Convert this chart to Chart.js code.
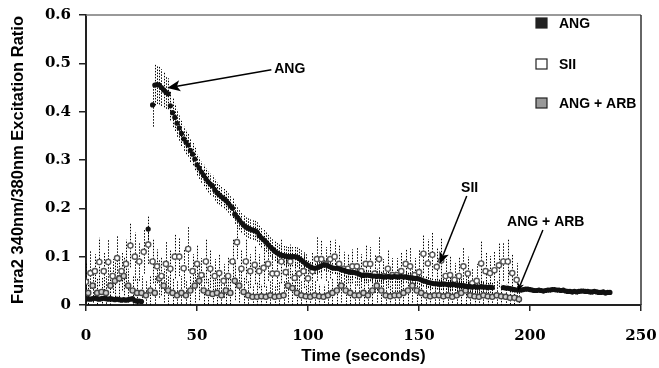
<!DOCTYPE html>
<html>
<head>
<meta charset="utf-8">
<script src="https://cdn.jsdelivr.net/npm/chart.js@4.4.1/dist/chart.umd.min.js"></script>
<style>
  html, body { margin: 0; padding: 0; background: #fff; }
  canvas { display: block; }
</style>
</head>
<body>
<canvas id="ratioChart" width="659" height="368"></canvas>
<script>
// Sampling (seconds) for each series
const angStart = 0, angStep = 1;
const siiStart = 0, siiStep = 2;
const arbStart = 1, arbStep = 2;

const xTicks = [0, 50, 100, 150, 200, 250];
const yTicks = [0, 0.1, 0.2, 0.3, 0.4, 0.5, 0.6];

// ANG: mean ratio, one value per second (null = no sample)
const angValues = [
  0.012, 0.013, 0.012, 0.013, 0.014, 0.013, 0.012, 0.013, 0.014, 0.013,
  0.012, 0.013, 0.012, 0.011, 0.012, 0.011, 0.010, 0.011, 0.010, 0.011,
  0.012, 0.013, 0.009, 0.008, 0.008, 0.007, null, null, 0.157, null,
  0.414, 0.455, 0.456, 0.455, 0.450, 0.445, 0.440, 0.437, 0.412, 0.398,
  0.388, 0.376, 0.366, 0.355, 0.344, 0.337, 0.331, 0.320, 0.312, 0.302,
  0.290, 0.283, 0.275, 0.268, 0.261, 0.255, 0.250, 0.246, 0.238, 0.232,
  0.228, 0.224, 0.220, 0.216, 0.211, 0.205, 0.200, 0.188, 0.182, 0.176,
  0.170, 0.165, 0.161, 0.159, 0.157, 0.155, 0.154, 0.151, 0.144, 0.139,
  0.135, 0.130, 0.125, 0.120, 0.116, 0.111, 0.108, 0.105, 0.103, 0.102,
  0.101, 0.100, 0.100, 0.100, 0.100, 0.099, 0.096, 0.093, 0.089, 0.085,
  0.082, 0.079, 0.077, 0.076, 0.077, 0.079, 0.081, 0.083, 0.083, 0.081,
  0.079, 0.077, 0.076, 0.076, 0.075, 0.073, 0.072, 0.070, 0.069, 0.068,
  0.068, 0.067, 0.066, 0.064, 0.062, 0.061, 0.062, 0.062, 0.061, 0.060,
  0.060, 0.059, 0.060, 0.059, 0.058, 0.058, 0.059, 0.058, 0.058, 0.059,
  0.058, 0.058, 0.059, 0.058, 0.058, 0.057, 0.056, 0.056, 0.055, 0.055,
  0.054, 0.052, 0.050, 0.049, 0.047, 0.046, 0.045, 0.044, 0.044, 0.043,
  0.043, 0.044, 0.043, 0.042, 0.042, 0.043, 0.042, 0.041, 0.041, 0.040,
  0.040, 0.039, 0.038, 0.038, 0.037, 0.038, 0.037, 0.037, 0.038, 0.037,
  0.037, 0.036, 0.037, 0.036, null, null, null, null, 0.036, 0.035,
  0.035, 0.034, 0.033, 0.032, 0.031, 0.031, 0.031, 0.032, 0.033, 0.033,
  0.032, 0.031, 0.030, 0.030, 0.031, 0.030, 0.029, 0.030, 0.031, 0.031,
  0.032, 0.032, 0.031, 0.031, 0.030, 0.031, 0.029, 0.028, 0.028, 0.027,
  0.028, 0.027, 0.028, 0.029, 0.029, 0.028, 0.028, 0.027, 0.027, 0.028,
  0.027, 0.026, 0.026, 0.027, 0.025, 0.026, 0.026
];
const angErrors = [
  0.003, 0.003, 0.003, 0.003, 0.003, 0.003, 0.003, 0.003, 0.003, 0.003,
  0.003, 0.003, 0.003, 0.003, 0.003, 0.003, 0.003, 0.003, 0.003, 0.003,
  0.003, 0.003, 0.003, 0.003, 0.003, 0.003, null, null, 0.027, null,
  0.045, 0.042, 0.040, 0.040, 0.038, 0.036, 0.034, 0.032, 0.030, 0.030,
  0.028, 0.028, 0.026, 0.026, 0.025, 0.025, 0.024, 0.024, 0.023, 0.023,
  0.022, 0.022, 0.022, 0.022, 0.022, 0.022, 0.022, 0.022, 0.022, 0.022,
  0.020, 0.020, 0.020, 0.020, 0.020, 0.020, 0.020, 0.020, 0.020, 0.020,
  0.020, 0.020, 0.020, 0.020, 0.020, 0.020, 0.020, 0.020, 0.020, 0.020,
  0.020, 0.020, 0.020, 0.020, 0.020, 0.020, 0.020, 0.020, 0.020, 0.020,
  0.020, 0.020, 0.020, 0.020, 0.020, 0.020, 0.020, 0.020, 0.020, 0.020,
  0.012, 0.012, 0.012, 0.012, 0.012, 0.012, 0.012, 0.012, 0.012, 0.012,
  0.012, 0.012, 0.012, 0.012, 0.012, 0.012, 0.012, 0.012, 0.012, 0.012,
  0.012, 0.012, 0.012, 0.012, 0.012, 0.012, 0.012, 0.012, 0.012, 0.012,
  0.012, 0.012, 0.012, 0.012, 0.012, 0.012, 0.012, 0.012, 0.012, 0.012,
  0.012, 0.012, 0.012, 0.012, 0.012, 0.012, 0.012, 0.012, 0.012, 0.012,
  0.012, 0.012, 0.012, 0.012, 0.012, 0.012, 0.012, 0.012, 0.012, 0.012,
  0.012, 0.012, 0.012, 0.012, 0.012, 0.012, 0.012, 0.012, 0.012, 0.012,
  0.012, 0.012, 0.012, 0.012, 0.012, 0.012, 0.012, 0.012, 0.012, 0.012,
  0.012, 0.012, 0.012, 0.012, null, null, null, null, 0.005, 0.005,
  0.005, 0.005, 0.005, 0.005, 0.005, 0.005, 0.005, 0.005, 0.005, 0.005,
  0.005, 0.005, 0.005, 0.005, 0.005, 0.005, 0.005, 0.005, 0.005, 0.005,
  0.005, 0.005, 0.005, 0.005, 0.005, 0.005, 0.005, 0.005, 0.005, 0.005,
  0.005, 0.005, 0.005, 0.005, 0.005, 0.005, 0.005, 0.005, 0.005, 0.005,
  0.005, 0.005, 0.005, 0.005, 0.005, 0.005, 0.005
];

// SII: every 2 s from 0 s
const siiValues = [
  0.048, 0.066, 0.070, 0.089, 0.070, 0.089, 0.060, 0.097, 0.070, 0.085,
  0.123, 0.100, 0.090, 0.110, 0.125, 0.090, 0.080, 0.060, 0.085, 0.075,
  0.100, 0.100, 0.076, 0.116, 0.070, 0.085, 0.062, 0.090, 0.075, 0.060,
  0.066, 0.050, 0.060, 0.090, 0.130, 0.075, 0.090, 0.070, 0.083, 0.070,
  0.077, 0.085, 0.065, 0.065, 0.090, 0.068, 0.090, 0.056, 0.065, 0.070,
  0.055, 0.070, 0.095, 0.095, 0.085, 0.095, 0.100, 0.085, 0.075, 0.075,
  0.080, 0.080, 0.070, 0.085, 0.085, 0.065, 0.095, 0.060, 0.075, 0.062,
  0.062, 0.070, 0.085, 0.080, 0.062, 0.068, 0.106, 0.086, 0.104, 0.079,
  0.092, 0.060, 0.062, 0.052, 0.060, 0.080, 0.065, 0.045, 0.050, 0.086,
  0.070, 0.066, 0.072, 0.082, 0.090, 0.090, 0.066, 0.052
];
const siiErrors = [
  0.040, 0.045, 0.035, 0.050, 0.040, 0.045, 0.035, 0.045, 0.040, 0.050,
  0.045, 0.050, 0.040, 0.045, 0.040, 0.045, 0.035, 0.040, 0.045, 0.040,
  0.045, 0.040, 0.040, 0.045, 0.035, 0.040, 0.035, 0.045, 0.040, 0.035,
  0.040, 0.035, 0.040, 0.045, 0.035, 0.040, 0.045, 0.035, 0.040, 0.035,
  0.040, 0.035, 0.040, 0.035, 0.045, 0.040, 0.035, 0.030, 0.040, 0.035,
  0.035, 0.040, 0.045, 0.040, 0.035, 0.040, 0.035, 0.040, 0.035, 0.030,
  0.035, 0.040, 0.035, 0.040, 0.035, 0.040, 0.045, 0.035, 0.040, 0.035,
  0.035, 0.040, 0.030, 0.040, 0.035, 0.045, 0.040, 0.050, 0.045, 0.040,
  0.045, 0.035, 0.040, 0.035, 0.040, 0.040, 0.035, 0.030, 0.035, 0.045,
  0.040, 0.035, 0.040, 0.045, 0.040, 0.045, 0.040, 0.035
];

// ANG + ARB: every 2 s from 1 s
const arbValues = [
  0.025, 0.040, 0.025, 0.027, 0.025, 0.040, 0.050, 0.055, 0.060, 0.040,
  0.030, 0.025, 0.025, 0.020, 0.030, 0.025, 0.055, 0.040, 0.030, 0.025,
  0.020, 0.025, 0.020, 0.030, 0.040, 0.050, 0.030, 0.025, 0.023, 0.025,
  0.020, 0.030, 0.025, 0.050, 0.040, 0.027, 0.020, 0.017, 0.017, 0.018,
  0.017, 0.020, 0.017, 0.018, 0.020, 0.040, 0.035, 0.025, 0.020, 0.018,
  0.017, 0.020, 0.018, 0.017, 0.020, 0.025, 0.030, 0.040, 0.030, 0.025,
  0.020, 0.020, 0.025, 0.020, 0.030, 0.040, 0.030, 0.020, 0.018, 0.020,
  0.020, 0.025, 0.030, 0.040, 0.030, 0.025, 0.020, 0.018, 0.020, 0.020,
  0.018, 0.020, 0.017, 0.020, 0.025, 0.030, 0.020, 0.018, 0.017, 0.020,
  0.018, 0.017, 0.020, 0.018, 0.017, 0.015, 0.015, 0.012
];
const arbErrors = [
  0.030, 0.035, 0.030, 0.030, 0.035, 0.040, 0.040, 0.045, 0.040, 0.035,
  0.030, 0.030, 0.035, 0.030, 0.030, 0.035, 0.040, 0.035, 0.030, 0.030,
  0.030, 0.035, 0.030, 0.030, 0.035, 0.040, 0.035, 0.030, 0.030, 0.030,
  0.030, 0.035, 0.030, 0.040, 0.035, 0.030, 0.030, 0.025, 0.030, 0.025,
  0.025, 0.030, 0.025, 0.030, 0.030, 0.035, 0.035, 0.030, 0.030, 0.025,
  0.025, 0.030, 0.025, 0.025, 0.030, 0.030, 0.035, 0.035, 0.030, 0.030,
  0.030, 0.030, 0.030, 0.030, 0.035, 0.035, 0.030, 0.030, 0.025, 0.030,
  0.030, 0.030, 0.035, 0.035, 0.030, 0.030, 0.030, 0.025, 0.030, 0.030,
  0.025, 0.030, 0.025, 0.030, 0.030, 0.035, 0.030, 0.025, 0.025, 0.030,
  0.025, 0.025, 0.030, 0.025, 0.025, 0.020, 0.020, 0.020
];

const seriesNames = ['ANG', 'SII', 'ANG + ARB'];

// callout labels with arrows (data coordinates)
const callouts = [
  { text: 'ANG', lx: 84.8, ly: 0.488, align: 'left', tx: 83.5, ty: 0.4865, hx: 36.6, hy: 0.449, head: 13 },
  { text: 'SII', lx: 172.8, ly: 0.242, align: 'center', tx: 171.5, ty: 0.2257, hx: 159.3, hy: 0.085, head: 12 },
  { text: 'ANG + ARB', lx: 207.1, ly: 0.172, align: 'center', tx: 205.8, ty: 0.155, hx: 194.5, hy: 0.029, head: 8 }
];

function toPoints(start, step, values) {
  return values.map((v, i) => ({ x: start + i * step, y: v }));
}

const errorBars = {
  id: 'errorBars',
  beforeDatasetsDraw(chart) {
    const { ctx, chartArea, scales: { x, y } } = chart;
    ctx.save();
    ctx.beginPath();
    ctx.rect(chartArea.left, chartArea.top, chartArea.width, chartArea.height);
    ctx.clip();
    ctx.strokeStyle = '#000';
    ctx.lineWidth = 1;
    ctx.setLineDash([1.5, 1.5]);
    chart.data.datasets.forEach(ds => {
      ds.data.forEach((p, i) => {
        const e = ds.errors[i];
        if (p.y == null || e == null) return;
        const px = Math.round(x.getPixelForValue(p.x)) + 0.5;
        ctx.beginPath();
        ctx.moveTo(px, y.getPixelForValue(p.y - e));
        ctx.lineTo(px, y.getPixelForValue(p.y + e));
        ctx.stroke();
      });
    });
    ctx.restore();
  }
};

const frameAndNotes = {
  id: 'frameAndNotes',
  afterDraw(chart) {
    const { ctx, chartArea: a, scales: { x, y } } = chart;
    ctx.save();
    // top and right frame
    ctx.lineWidth = 1.5;
    ctx.strokeStyle = '#777';
    ctx.beginPath();
    ctx.moveTo(a.left, a.top);
    ctx.lineTo(a.right, a.top);
    ctx.stroke();
    ctx.strokeStyle = '#333';
    ctx.beginPath();
    ctx.moveTo(a.right, a.top);
    ctx.lineTo(a.right, a.bottom);
    ctx.stroke();

    // legend
    const fills = ['#222', '#fff', '#999'];
    const rows = [8, 49, 88];
    ctx.font = 'bold 14px "Liberation Sans", Arial, sans-serif';
    ctx.textBaseline = 'middle';
    ctx.textAlign = 'left';
    seriesNames.forEach((name, i) => {
      const cy = a.top + rows[i];
      ctx.fillStyle = fills[i];
      ctx.fillRect(a.right - 105, cy - 5, 11, 10);
      ctx.strokeStyle = '#222';
      ctx.lineWidth = 1.2;
      ctx.strokeRect(a.right - 105, cy - 5, 11, 10);
      ctx.fillStyle = '#000';
      ctx.fillText(name, a.right - 82, cy + 1);
    });

    // callouts
    callouts.forEach(c => {
      const tx = x.getPixelForValue(c.tx), ty = y.getPixelForValue(c.ty);
      const hx = x.getPixelForValue(c.hx), hy = y.getPixelForValue(c.hy);
      ctx.fillStyle = '#000';
      ctx.textAlign = c.align;
      ctx.fillText(c.text, x.getPixelForValue(c.lx), y.getPixelForValue(c.ly));
      const ang = Math.atan2(hy - ty, hx - tx);
      const bx = hx - c.head * 0.75 * Math.cos(ang), by = hy - c.head * 0.75 * Math.sin(ang);
      ctx.strokeStyle = '#000';
      ctx.lineWidth = 1.5;
      ctx.beginPath();
      ctx.moveTo(tx, ty);
      ctx.lineTo(bx, by);
      ctx.stroke();
      const w = c.head * 0.42;
      ctx.beginPath();
      ctx.moveTo(hx, hy);
      ctx.lineTo(hx - c.head * Math.cos(ang) + w * Math.sin(ang), hy - c.head * Math.sin(ang) - w * Math.cos(ang));
      ctx.lineTo(bx, by);
      ctx.lineTo(hx - c.head * Math.cos(ang) - w * Math.sin(ang), hy - c.head * Math.sin(ang) + w * Math.cos(ang));
      ctx.closePath();
      ctx.fill();
    });
    ctx.restore();
  }
};

const tickFont = { family: '"DejaVu Serif", serif', size: 15, weight: 'bold' };
const titleFont = { family: '"Liberation Sans", Arial, sans-serif', size: 16.5, weight: 'bold' };

new Chart(document.getElementById('ratioChart'), {
  type: 'scatter',
  data: {
    datasets: [
      {
        label: seriesNames[0],
        data: toPoints(angStart, angStep, angValues),
        errors: angErrors,
        pointRadius: 2.6,
        pointBackgroundColor: '#111',
        pointBorderWidth: 0
      },
      {
        label: seriesNames[1],
        data: toPoints(siiStart, siiStep, siiValues),
        errors: siiErrors,
        pointRadius: 2.6,
        pointBackgroundColor: '#fff',
        pointBorderColor: '#555',
        pointBorderWidth: 1.4
      },
      {
        label: seriesNames[2],
        data: toPoints(arbStart, arbStep, arbValues),
        errors: arbErrors,
        pointRadius: 2.6,
        pointBackgroundColor: '#d0d0d0',
        pointBorderColor: '#444',
        pointBorderWidth: 1.4
      }
    ]
  },
  options: {
    responsive: false,
    animation: false,
    layout: { padding: { top: 15, right: 18, left: 0, bottom: 0 } },
    plugins: { legend: { display: false }, tooltip: { enabled: false } },
    scales: {
      x: {
        type: 'linear',
        min: xTicks[0],
        max: xTicks[xTicks.length - 1],
        afterBuildTicks: s => { s.ticks = xTicks.map(v => ({ value: v })); },
        afterFit: s => { s.height = 63; s.paddingLeft = 0; s.paddingRight = 0; },
        ticks: { font: tickFont, color: '#000', padding: 16, maxRotation: 0 },
        grid: { drawOnChartArea: false, tickLength: 6, color: '#222', lineWidth: 1.5 },
        border: { color: '#222', width: 2 },
        title: { display: true, text: 'Time (seconds)', font: { ...titleFont, size: 17 }, color: '#000', padding: { top: 0, bottom: 1 } }
      },
      y: {
        min: yTicks[0],
        max: yTicks[yTicks.length - 1],
        afterBuildTicks: s => { s.ticks = yTicks.map(v => ({ value: v })); },
        afterFit: s => { s.width = 86; s.paddingTop = 0; s.paddingBottom = 0; },
        ticks: {
          font: tickFont, color: '#000', padding: 8,
          callback: v => (v === 0 ? '0' : v.toFixed(1))
        },
        grid: { drawOnChartArea: false, tickLength: 7, color: '#222', lineWidth: 1.5 },
        border: { color: '#222', width: 2 },
        title: { display: true, text: 'Fura2 340nm/380nm Excitation Ratio', font: titleFont, color: '#000', padding: { top: 9, bottom: 0 } }
      }
    }
  },
  plugins: [errorBars, frameAndNotes]
});
</script>
</body>
</html>
